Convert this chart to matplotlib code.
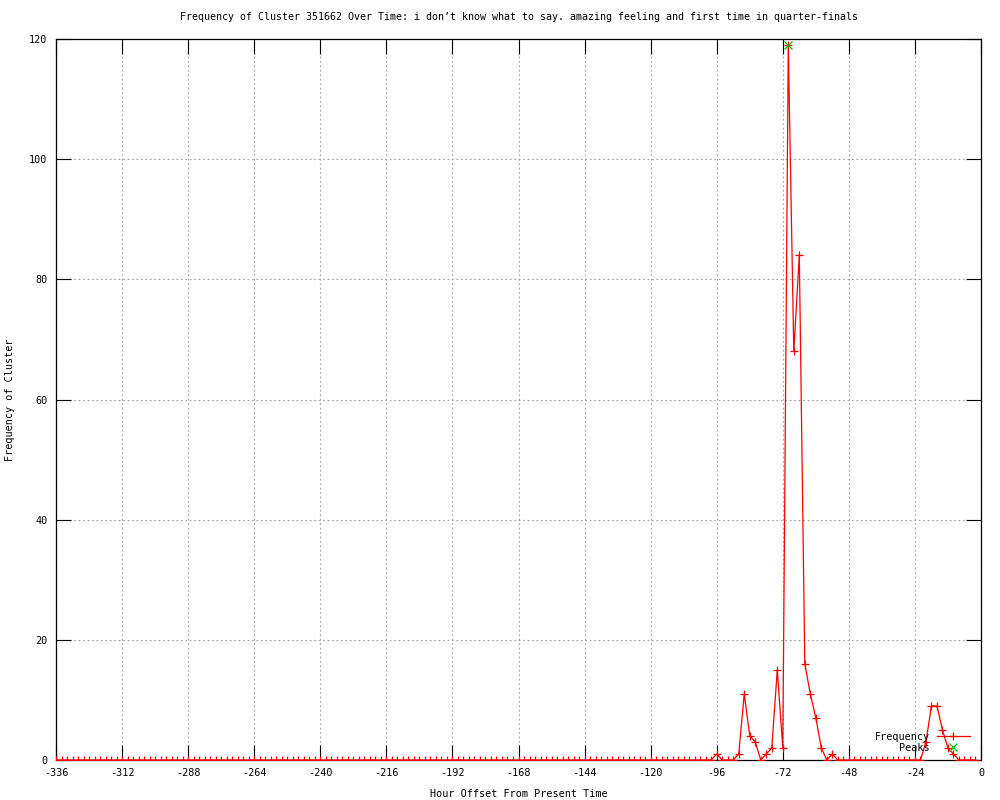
import numpy as np
import matplotlib
matplotlib.use("Agg")
import matplotlib.pyplot as plt

# --- Data ---
TITLE = "Frequency of Cluster 351662 Over Time: i don\u2019t know what to say. amazing feeling and first time in quarter-finals"

# one sample every 2 hours, -336 .. -2
hours = np.arange(-336, 0, 2)
counts = [
    0, 0, 0, 0, 0, 0, 0, 0, 0, 0, 0, 0,   # -336 .. -314
    0, 0, 0, 0, 0, 0, 0, 0, 0, 0, 0, 0,   # -312 .. -290
    0, 0, 0, 0, 0, 0, 0, 0, 0, 0, 0, 0,   # -288 .. -266
    0, 0, 0, 0, 0, 0, 0, 0, 0, 0, 0, 0,   # -264 .. -242
    0, 0, 0, 0, 0, 0, 0, 0, 0, 0, 0, 0,   # -240 .. -218
    0, 0, 0, 0, 0, 0, 0, 0, 0, 0, 0, 0,   # -216 .. -194
    0, 0, 0, 0, 0, 0, 0, 0, 0, 0, 0, 0,   # -192 .. -170
    0, 0, 0, 0, 0, 0, 0, 0, 0, 0, 0, 0,   # -168 .. -146
    0, 0, 0, 0, 0, 0, 0, 0, 0, 0, 0, 0,   # -144 .. -122
    0, 0, 0, 0, 0, 0, 0, 0, 0, 0, 0, 0,   # -120 .. -98
    1, 0, 0, 0, 1, 11, 4, 3, 0, 1, 2, 15,  # -96 .. -74
    2, 119, 68, 84, 16, 11, 7, 2, 0, 1, 0, 0,  # -72 .. -50
    0, 0, 0, 0, 0, 0, 0, 0, 0, 0, 0, 0,   # -48 .. -26
    0, 0, 3, 9, 9, 5, 2, 1, 0, 0, 0, 0,   # -24 .. -2
]
peak_hours = [-70]
peak_counts = [119]

x_ticks = list(range(-336, 1, 24))
y_ticks = list(range(0, 121, 20))

# --- Style: mimic gnuplot png output ---
plt.rcParams['font.family'] = ['DejaVu Sans Mono']
plt.rcParams['font.size'] = 7.3
plt.rcParams['axes.unicode_minus'] = False

fig = plt.figure(figsize=(10, 8), dpi=100)
ax = fig.add_axes([0.056, 0.05, 0.925, 0.90125])

ax.plot(hours, counts, color='red', lw=0.9, marker='+', ms=6, mew=0.9,
        label='Frequency', zorder=3)
ax.plot(peak_hours, peak_counts, ls='none', color='#00c000', marker='x',
        ms=6, mew=0.9, label='Peaks', zorder=4)

ax.set_xlim(-336, 0)
ax.set_ylim(0, 120)
ax.set_xticks(x_ticks)
ax.set_yticks(y_ticks)
ax.set_xticklabels([str(t) for t in x_ticks])
ax.set_yticklabels([str(t) for t in y_ticks])

ax.grid(True, color='#a0a0a0', ls=(0, (1.5, 2.5)), lw=0.8)
ax.tick_params(direction='in', length=11, width=0.8, top=True, right=True,
               pad=6)
for s in ax.spines.values():
    s.set_linewidth(0.9)

ax.set_title(TITLE, fontsize=7.2, pad=14)
ax.set_xlabel("Hour Offset From Present Time", labelpad=8)
ax.set_ylabel("Frequency of Cluster", labelpad=10)

ax.legend(loc='lower right', bbox_to_anchor=(0.996, 0.0), frameon=False,
          markerfirst=False, numpoints=1, handlelength=3.3,
          labelspacing=0.1, borderaxespad=0.3, handletextpad=0.7)

fig.savefig("out.png", dpi=100)
